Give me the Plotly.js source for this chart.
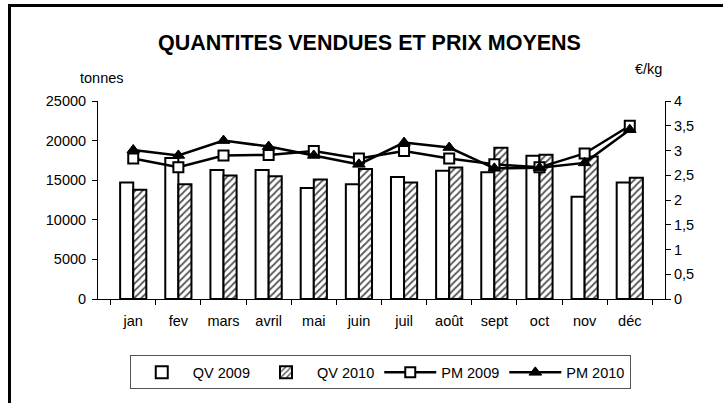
<!DOCTYPE html>
<html>
<head>
<meta charset="utf-8">
<script src="https://cdn.plot.ly/plotly-3.0.1.min.js"></script>
<style>
html,body{margin:0;padding:0;background:#fff;}
#chart{position:absolute;left:0;top:0;width:723px;height:403px;}
#frame{position:absolute;left:8px;top:4px;width:730px;height:420px;border-left:3px solid #000;border-top:3px solid #000;pointer-events:none;}
</style>
</head>
<body>
<div id="chart"></div>
<div id="frame"></div>
<script>
const months = ["jan","fev","mars","avril","mai","juin","juil","août","sept","oct","nov","déc"];
const qv2009 = [14700,17800,16300,16300,14000,14500,15400,16200,16000,18100,12900,14700];
const qv2010 = [13800,14500,15600,15500,15100,16400,14700,16600,19100,18200,18000,15300];
const pm2009 = [2.84,2.66,2.90,2.91,2.99,2.84,2.99,2.84,2.72,2.66,2.94,3.50];
const pm2010 = [3.01,2.90,3.20,3.08,2.90,2.72,3.16,3.06,2.64,2.65,2.75,3.42];
const leftTickVals = [0,5000,10000,15000,20000,25000];
const leftTickText = ["0","5000","10000","15000","20000","25000"];
const rightTickVals = [0,0.5,1,1.5,2,2.5,3,3.5,4];
const rightTickText = ["0","0,5","1","1,5","2","2,5","3","3,5","4"];

const FONT = "Liberation Sans, Arial, sans-serif";
const FS = 14.5;

const traces = [
  {type:"bar", name:"QV 2009", x:months, y:qv2009,
   marker:{color:"#ffffff", line:{color:"#000", width:2}}},
  {type:"bar", name:"QV 2010", x:months, y:qv2010,
   marker:{color:"#ffffff", line:{color:"#000", width:2},
           pattern:{shape:"/", fgcolor:"#555555", bgcolor:"#ffffff", size:5, solidity:0.35}}},
  {type:"scatter", mode:"lines+markers", name:"PM 2009", x:months, y:pm2009, yaxis:"y2",
   line:{color:"#000", width:2.5},
   marker:{symbol:"square", size:10, color:"#ffffff", line:{color:"#000", width:2}}},
  {type:"scatter", mode:"lines+markers", name:"PM 2010", x:months, y:pm2010, yaxis:"y2",
   line:{color:"#000", width:2.5},
   marker:{symbol:"triangle-up", size:11, color:"#000", line:{color:"#000", width:1}}}
];

const layout = {
  width:723, height:403,
  margin:{l:97.5, r:58, t:101, b:104, pad:0},
  paper_bgcolor:"#fff", plot_bgcolor:"#fff",
  font:{family:FONT, size:FS, color:"#000"},
  title:{text:"<b>QUANTITES VENDUES ET PRIX MOYENS</b>", font:{family:FONT, size:21.5, color:"#000"},
         xref:"container", x:(156+583)/2/723, xanchor:"center", yref:"container", y:1-42/403, yanchor:"middle"},
  barmode:"group", bargap:0.42, bargroupgap:0,
  showlegend:true,
  legend:{orientation:"h", x:(380-97.5)/567.5, xanchor:"center", y:-0.285, yanchor:"top",
          bordercolor:"#555", borderwidth:1, font:{family:FONT, size:FS, color:"#000"},
          traceorder:"normal", itemwidth:52},
  xaxis:{type:"category", showline:true, linecolor:"#000", linewidth:1,
         ticks:"outside", ticklen:5, tickcolor:"#000", tickson:"boundaries", ticklabelstandoff:9,
         showgrid:false, zeroline:false, tickfont:{size:FS}, fixedrange:true},
  yaxis:{range:[0,25000], tickvals:leftTickVals, ticktext:leftTickText,
         showline:true, linecolor:"#000", linewidth:1, ticks:"outside", ticklen:5, tickcolor:"#000",
         ticklabelstandoff:3,
         showgrid:false, zeroline:false, tickfont:{size:FS}},
  yaxis2:{range:[0,4], overlaying:"y", side:"right", tickvals:rightTickVals, ticktext:rightTickText,
          showline:true, linecolor:"#000", linewidth:1, ticks:"outside", ticklen:5, tickcolor:"#000",
          showgrid:false, zeroline:false, tickfont:{size:FS}},
  annotations:[
    {text:"tonnes", xref:"paper", yref:"paper", x:(102-97.5)/567.5, y:(299-78)/198, showarrow:false,
     xanchor:"center", yanchor:"middle", font:{family:FONT, size:FS, color:"#000"}},
    {text:"€/kg", xref:"paper", yref:"paper", x:(648-97.5)/567.5, y:(299-69)/198, showarrow:false,
     xanchor:"center", yanchor:"middle", font:{family:FONT, size:FS, color:"#000"}}
  ]
};

Plotly.newPlot("chart", traces, layout, {displayModeBar:false, staticPlot:true});
</script>
</body>
</html>
